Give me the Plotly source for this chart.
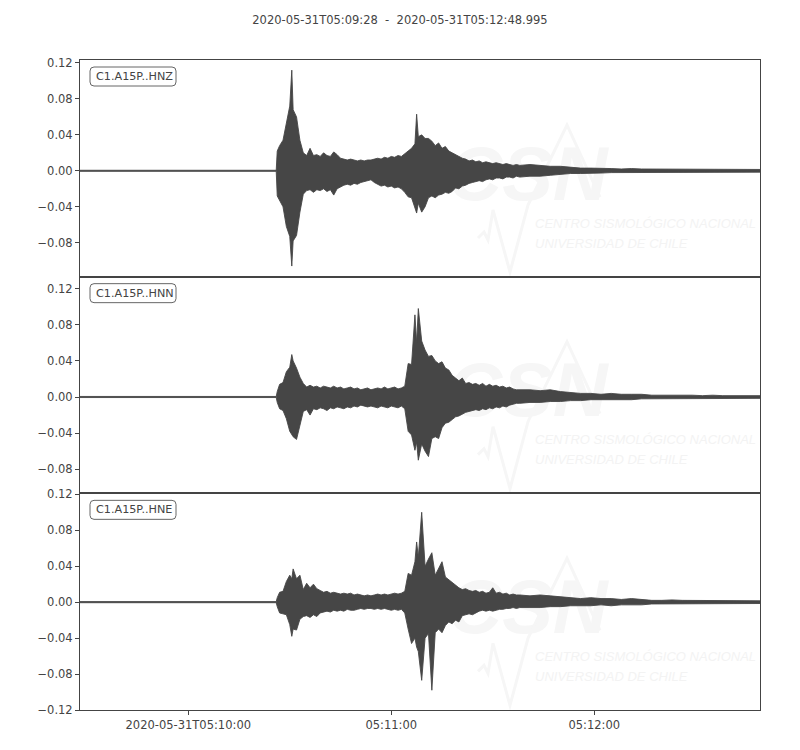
import plotly.graph_objects as go
from plotly.subplots import make_subplots

# ---------------- data (seconds after 2020-05-31T05:09:28) -------------
T = [0, 58.0, 58.3, 59, 60, 61, 62, 62.6, 63, 64,
     65, 66, 67, 68, 69, 70, 71, 72, 73, 74,
     75, 76, 77, 78, 79, 80, 81, 82, 83, 84,
     85, 86, 87, 88, 89, 90, 91, 92, 93, 94,
     95, 96, 97, 98, 99, 99.5, 100, 101, 102, 103,
     104, 105, 106, 107, 108, 109, 110, 111, 112, 113,
     114, 115, 116, 117, 118, 119, 120, 121, 122, 123,
     124, 125, 126, 127, 128, 129, 130, 133, 136, 139,
     142, 145, 148, 151, 154, 157, 160, 163, 166, 169,
     172, 175, 178, 181, 184, 187, 190, 193, 196, 199,
     201]

HNZ_UP = [.0006, .0006, .022, .028, .034, .052, .072, .112, .068, .060,
          .034, .020, .017, .025, .017, .018, .016, .020, .017, .016,
          .021, .018, .014, .013, .012, .013, .012, .011, .012, .011,
          .012, .012, .013, .014, .013, .015, .014, .016, .015, .017,
          .016, .019, .021, .025, .030, .063, .038, .040, .036, .036,
          .033, .028, .031, .025, .027, .022, .020, .018, .016, .014,
          .013, .011, .012, .010, .011, .009, .010, .009, .008, .009,
          .008, .007, .008, .007, .006, .007, .006, .007, .006, .005,
          .005, .004, .003, .003, .003, .0025, .002, .0025, .002, .002,
          .002, .0015, .002, .0015, .0015, .002, .0015, .0015, .0015, .0015,
          .0015]
HNZ_LO = [-.0006, -.0006, -.028, -.033, -.040, -.062, -.073, -.106, -.078, -.072,
          -.046, -.026, -.022, -.021, -.024, -.021, -.022, -.020, -.023, -.021,
          -.027, -.020, -.018, -.016, -.015, -.016, -.014, -.015, -.013, -.012,
          -.011, -.010, -.013, -.015, -.017, -.016, -.018, -.017, -.019, -.018,
          -.020, -.024, -.029, -.030, -.040, -.047, -.036, -.046, -.040, -.030,
          -.028, -.030, -.027, -.026, -.024, -.025, -.023, -.019, -.020, -.017,
          -.016, -.014, -.013, -.012, -.011, -.012, -.010, -.009, -.010, -.008,
          -.008, -.009, -.007, -.007, -.008, -.006, -.007, -.006, -.006, -.005,
          -.004, -.003, -.003, -.003, -.0025, -.002, -.002, -.002, -.002, -.002,
          -.0015, -.002, -.0015, -.0015, -.0015, -.0015, -.002, -.0015, -.0015, -.0015,
          -.0015]

HNN_UP = [.0006, .0006, .006, .014, .016, .028, .033, .047, .040, .032,
          .022, .015, .011, .013, .011, .012, .010, .012, .011, .010,
          .012, .010, .011, .009, .010, .011, .009, .010, .008, .009,
          .010, .008, .009, .010, .009, .011, .009, .010, .011, .009,
          .010, .012, .037, .036, .091, .060, .098, .062, .052, .045,
          .046, .040, .037, .039, .032, .030, .024, .021, .018, .021,
          .015, .016, .014, .015, .013, .015, .012, .014, .012, .013,
          .011, .012, .010, .011, .009, .008, .008, .008, .007, .008,
          .006, .005, .004, .004, .003, .004, .003, .003, .003, .002,
          .002, .002, .0025, .002, .0015, .002, .0015, .0015, .002, .0015,
          .0015]
HNN_LO = [-.0006, -.0006, -.006, -.013, -.015, -.024, -.038, -.042, -.044, -.047,
          -.030, -.016, -.014, -.020, -.013, -.014, -.012, -.013, -.015, -.012,
          -.013, -.011, -.012, -.013, -.011, -.012, -.010, -.011, -.009, -.010,
          -.011, -.010, -.011, -.012, -.010, -.011, -.012, -.010, -.011, -.012,
          -.010, -.013, -.038, -.042, -.059, -.050, -.070, -.052, -.060, -.066,
          -.046, -.044, -.046, -.034, -.029, -.028, -.025, -.022, -.021, -.019,
          -.017, -.016, -.015, -.014, -.015, -.013, -.014, -.012, -.013, -.011,
          -.012, -.010, -.011, -.009, -.008, -.007, -.007, -.006, -.006, -.005,
          -.005, -.004, -.004, -.003, -.003, -.003, -.003, -.003, -.002, -.002,
          -.002, -.002, -.002, -.0015, -.002, -.0015, -.0015, -.0015, -.0015, -.0015,
          -.0015]

HNE_UP = [.0006, .0006, .005, .011, .012, .023, .030, .026, .037, .026,
          .030, .014, .021, .016, .020, .015, .013, .011, .012, .010,
          .011, .010, .009, .010, .009, .010, .008, .009, .008, .007,
          .008, .007, .008, .009, .008, .009, .008, .009, .010, .009,
          .010, .012, .032, .030, .045, .067, .050, .100, .040, .048,
          .055, .030, .038, .045, .028, .025, .022, .018, .016, .014,
          .015, .013, .012, .013, .011, .012, .010, .011, .016, .010,
          .011, .009, .010, .008, .009, .008, .008, .007, .008, .007,
          .006, .005, .004, .005, .004, .004, .003, .004, .003, .002,
          .002, .0025, .002, .002, .002, .0015, .002, .002, .0015, .002,
          .0015]
HNE_LO = [-.0006, -.0006, -.005, -.012, -.013, -.014, -.025, -.038, -.030, -.031,
          -.019, -.016, -.015, -.017, -.014, -.016, -.012, -.011, -.010, -.011,
          -.009, -.010, -.009, -.010, -.008, -.009, -.009, -.008, -.007, -.008,
          -.007, -.007, -.008, -.007, -.008, -.007, -.008, -.009, -.008, -.009,
          -.008, -.012, -.030, -.046, -.040, -.050, -.055, -.087, -.040, -.035,
          -.098, -.034, -.030, -.034, -.026, -.022, -.024, -.020, -.022, -.015,
          -.014, -.013, -.014, -.012, -.010, -.009, -.010, -.009, -.010, -.009,
          -.008, -.008, -.007, -.007, -.006, -.007, -.006, -.006, -.006, -.005,
          -.005, -.004, -.004, -.004, -.003, -.004, -.003, -.003, -.003, -.002,
          -.002, -.002, -.002, -.002, -.0015, -.002, -.002, -.0015, -.0015, -.0015,
          -.0015]

CHANNELS = ["C1.A15P..HNZ", "C1.A15P..HNN", "C1.A15P..HNE"]
UPPER = [HNZ_UP, HNN_UP, HNE_UP]
LOWER = [HNZ_LO, HNN_LO, HNE_LO]
Y_RANGES = [[-0.1178, 0.1233], [-0.1067, 0.1333], [-0.12, 0.1211]]
Y_TICKS = [[-0.08, -0.04, 0.0, 0.04, 0.08, 0.12],
           [-0.08, -0.04, 0.0, 0.04, 0.08, 0.12],
           [-0.12, -0.08, -0.04, 0.0, 0.04, 0.08, 0.12]]
X_END = 200.995
X_TICKVALS = [32, 92, 152]
X_TICKTEXT = ["2020-05-31T05:10:00", "05:11:00", "05:12:00"]
TITLE = "2020-05-31T05:09:28\u00a0\u00a0-\u00a0\u00a02020-05-31T05:12:48.995"
WM_LINE1 = "CENTRO SISMOLÓGICO NACIONAL"
WM_LINE2 = "UNIVERSIDAD DE CHILE"

# ---------------- figure ----------------
W, H = 800, 750
ML, MR, MT, MB = 80, 40, 60, 40
PW, PH = W - ML - MR, H - MT - MB
FONT = "DejaVu Sans"
TXT = "#444444"
WAVE = "#464646"


def px(x):
    return (x - ML) / PW


def py(y):
    return 1 - (y - MT) / PH


def fmt(v):
    return f"{v:.2f}".replace("-", "\u2212")


fig = make_subplots(rows=3, cols=1, shared_xaxes=True, vertical_spacing=0)

for i in range(3):
    r = i + 1
    oy = i * PH / 3

    # faint watermark (below traces)
    wm = "#f6f6f6"
    fig.add_shape(type="rect", xref="paper", yref="paper",
                  x0=px(445), x1=px(610), y0=py(212 + oy), y1=py(120 + oy),
                  line=dict(width=0), fillcolor="rgba(0,0,0,0)", layer="below",
                  label=dict(text="CSN", textposition="middle center",
                             font=dict(family="Liberation Sans Narrow, Liberation Sans",
                                       size=76, color=wm, style="italic", weight="bold")))
    for txt, yy in ((WM_LINE1, 222), (WM_LINE2, 242)):
        fig.add_shape(type="rect", xref="paper", yref="paper",
                      x0=px(532), x1=px(758), y0=py(yy + 9 + oy), y1=py(yy - 9 + oy),
                      line=dict(width=0), fillcolor="rgba(0,0,0,0)", layer="below",
                      label=dict(text=txt, textposition="middle left", padding=0,
                                 font=dict(family="Liberation Sans Narrow, Liberation Sans",
                                           size=13, color="#f3f3f3", style="italic")))
    pts = [(478, 238), (484, 232), (488, 240), (493, 210), (510, 272), (528, 205),
           (567, 125), (600, 197)]
    wpath = "M " + " L ".join(f"{px(a)} {py(b + oy)}" for a, b in pts)
    fig.add_shape(type="path", path=wpath, xref="paper", yref="paper",
                  line=dict(color=wm, width=3), layer="below")

    fig.add_trace(go.Scatter(x=T, y=LOWER[i], mode="lines",
                             line=dict(color=WAVE, width=0.9), hoverinfo="skip",
                             showlegend=False), row=r, col=1)
    fig.add_trace(go.Scatter(x=T, y=UPPER[i], mode="lines", fill="tonexty",
                             fillcolor=WAVE, line=dict(color=WAVE, width=0.9),
                             hoverinfo="skip", showlegend=False), row=r, col=1)
    fig.update_yaxes(range=Y_RANGES[i], tickvals=Y_TICKS[i],
                     ticktext=[fmt(v) for v in Y_TICKS[i]],
                     showline=True, mirror=True, linecolor=TXT, linewidth=1,
                     ticks="outside", ticklen=4, tickcolor=TXT, showgrid=False,
                     zeroline=False, tickfont=dict(family=FONT, size=11.5, color=TXT),
                     row=r, col=1)
    xa = dict(range=[0, X_END], showline=True, mirror=True, linecolor=TXT,
              linewidth=1, showgrid=False, zeroline=False)
    if r == 3:
        xa.update(ticks="outside", ticklen=4, tickcolor=TXT, tickvals=X_TICKVALS,
                  ticktext=X_TICKTEXT, showticklabels=True,
                  tickfont=dict(family=FONT, size=11.5, color=TXT))
    else:
        xa.update(ticks="", showticklabels=False)
    fig.update_xaxes(row=r, col=1, **xa)

    # channel label with rounded box
    x0, x1, y0, y1, rr = 90, 176, 67 + oy, 86 + oy, 4
    path = (f"M {px(x0 + rr)} {py(y0)} L {px(x1 - rr)} {py(y0)} "
            f"Q {px(x1)} {py(y0)} {px(x1)} {py(y0 + rr)} L {px(x1)} {py(y1 - rr)} "
            f"Q {px(x1)} {py(y1)} {px(x1 - rr)} {py(y1)} L {px(x0 + rr)} {py(y1)} "
            f"Q {px(x0)} {py(y1)} {px(x0)} {py(y1 - rr)} L {px(x0)} {py(y0 + rr)} "
            f"Q {px(x0)} {py(y0)} {px(x0 + rr)} {py(y0)} Z")
    fig.add_shape(type="path", path=path, xref="paper", yref="paper",
                  line=dict(color="#666666", width=1), fillcolor="white", layer="above")
    fig.add_annotation(x=px(94), y=py((y0 + y1) / 2), xref="paper", yref="paper",
                       xanchor="left", yanchor="middle", showarrow=False,
                       text=CHANNELS[i], font=dict(family=FONT, size=11.2, color=TXT))

fig.update_layout(
    width=W, height=H, margin=dict(l=ML, r=MR, t=MT, b=MB),
    paper_bgcolor="white", plot_bgcolor="white",
    title=dict(text=TITLE, x=0.5, xref="container", xanchor="center",
               y=1 - 20 / H, yref="container", yanchor="middle",
               font=dict(family=FONT, size=11.5, color=TXT)),
    showlegend=False,
)

fig.write_html("out.html", config={"displayModeBar": False},
               post_script="document.body.style.margin='0';document.body.style.padding='0';")
